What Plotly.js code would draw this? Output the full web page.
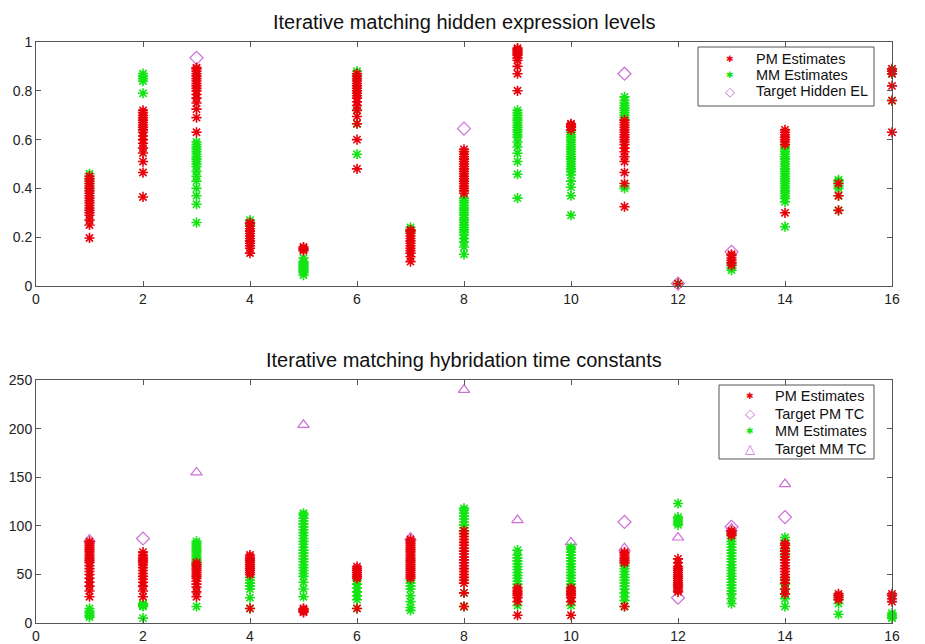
<!DOCTYPE html>
<html>
<head>
<meta charset="utf-8">
<script src="https://cdn.plot.ly/plotly-3.0.1.min.js"></script>
<style>html,body{margin:0;padding:0;background:#fff;}#chart{width:925px;height:644px;}</style>
</head>
<body>
<div id="chart"></div>
<script>
// Gene index (x categories)
const geneIdx = [1,2,3,4,5,6,7,8,9,10,11,12,13,14,15,16];
const xTicks = [0,2,4,6,8,10,12,14,16];

// ---- Top panel: hidden expression levels (per gene index, all iterations) ----
const pmEL = [
  [0.197,0.25,0.27,0.29,0.30,0.31,0.32,0.33,0.34,0.35,0.36,0.37,0.38,0.39,0.40,0.41,0.42,0.43,0.44,0.45],
  [0.365,0.465,0.51,0.545,0.565,0.585,0.60,0.615,0.63,0.64,0.65,0.66,0.67,0.68,0.69,0.70,0.71,0.72],
  [0.63,0.69,0.725,0.75,0.77,0.785,0.80,0.81,0.82,0.83,0.84,0.85,0.86,0.87,0.88,0.89,0.895],
  [0.135,0.155,0.165,0.175,0.185,0.195,0.205,0.215,0.225,0.235,0.245,0.255,0.26],
  [0.145,0.15,0.155,0.16],
  [0.48,0.60,0.665,0.695,0.72,0.74,0.755,0.77,0.78,0.79,0.80,0.81,0.82,0.83,0.84,0.85,0.86,0.87],
  [0.10,0.12,0.135,0.145,0.155,0.165,0.175,0.185,0.195,0.205,0.215,0.225,0.23],
  [0.38,0.39,0.40,0.41,0.42,0.43,0.44,0.45,0.46,0.47,0.48,0.49,0.50,0.51,0.52,0.53,0.54,0.55,0.56],
  [0.80,0.87,0.90,0.925,0.935,0.945,0.95,0.955,0.96,0.965,0.97,0.975],
  [0.64,0.65,0.655,0.66,0.665],
  [0.325,0.42,0.465,0.51,0.53,0.55,0.565,0.58,0.59,0.60,0.61,0.62,0.63,0.64,0.65,0.66,0.67,0.68],
  [0.01],
  [0.085,0.095,0.105,0.115,0.125,0.13],
  [0.30,0.58,0.59,0.60,0.61,0.62,0.63,0.64],
  [0.31,0.37,0.42],
  [0.63,0.76,0.82,0.87,0.88,0.89]
];
const mmEL = [
  [0.40,0.42,0.44,0.46],
  [0.79,0.84,0.85,0.86,0.87],
  [0.26,0.335,0.37,0.40,0.43,0.45,0.47,0.49,0.50,0.51,0.52,0.53,0.54,0.55,0.56,0.57,0.58,0.59],
  [0.25,0.26,0.27],
  [0.045,0.055,0.06,0.065,0.07,0.075,0.08,0.085,0.09,0.095,0.10,0.115],
  [0.54,0.665,0.72,0.80,0.85,0.87,0.88],
  [0.22,0.23,0.24],
  [0.13,0.16,0.18,0.195,0.21,0.22,0.23,0.24,0.25,0.26,0.27,0.28,0.29,0.30,0.31,0.32,0.33,0.34,0.35,0.36],
  [0.36,0.458,0.51,0.544,0.57,0.59,0.61,0.62,0.63,0.64,0.65,0.66,0.67,0.68,0.69,0.70,0.71,0.72],
  [0.29,0.37,0.405,0.43,0.455,0.47,0.48,0.49,0.50,0.51,0.52,0.53,0.54,0.55,0.56,0.57,0.58,0.59,0.60,0.61,0.62,0.63,0.64],
  [0.40,0.41,0.68,0.69,0.70,0.71,0.72,0.73,0.74,0.75,0.76,0.775],
  [0.01],
  [0.065,0.075,0.085,0.095],
  [0.243,0.345,0.36,0.37,0.38,0.39,0.40,0.41,0.42,0.43,0.44,0.45,0.46,0.47,0.48,0.49,0.50,0.51,0.52,0.53,0.54,0.55,0.56,0.57,0.578],
  [0.31,0.37,0.40,0.41,0.42,0.43,0.435],
  [0.76,0.87,0.88,0.89]
];
// Targets: only those visible in the picture (others hidden behind estimates)
const targetEL = [null,null,0.935,null,null,null,null,0.645,null,null,0.87,0.01,0.14,null,null,null];

// ---- Bottom panel: hybridation time constants ----
const pmTC = [
  [27,33,38,42,46,50,53,56,59,62,64,66,68,70,72,74,76,78,80,82,84],
  [27,33,38,42,45,48,51,54,57,60,62,64,66,68,70,73],
  [27,32,37,40,43,46,48,50,52,54,56,58,60,62],
  [15,50,52,54,56,58,60,62,64,66,68,70],
  [11,12,13,14,15],
  [15,46,48,50,52,54,56,58],
  [46,48,50,52,54,56,58,60,62,64,66,68,70,72,74,76,78,80,82,84,86],
  [17,31,41,44,47,50,53,56,59,62,65,68,71,74,77,80,83,86,89,92,95],
  [8,22,26,28,30,32,34,36],
  [8,22,26,28,30,32,34,36],
  [17,62,64,66,68,70,72,73],
  [32,34,36,38,40,42,44,46,48,50,52,54,56,58,62,66],
  [90,92,94,95],
  [30,35,41,44,47,50,53,56,59,62,65,68,71,74,77,80,82],
  [24,26,28,30],
  [22,25,28,30]
];
const mmTC = [
  [6,8,10,12,15],
  [5,17,18,19,20],
  [17,60,62,64,66,68,70,72,74,76,78,80,82,84],
  [15,26,35,38,41,44,47],
  [27,35,42,48,51,54,57,60,63,66,69,72,75,78,81,84,87,90,93,96,99,102,105,108,111,113],
  [15,24,28,32,36,40,44],
  [13,16,22,28,35,38,41,44],
  [17,31,95,98,101,104,107,110,113,116,118],
  [18,37,40,43,46,49,52,55,58,61,64,67,70,75],
  [18,37,40,43,46,49,52,55,58,61,64,67,70,73,76,78],
  [17,23,27,31,35,38,41,44,47,50,53,56,59,61],
  [101,103,105,107,109,123],
  [20,25,30,33,36,39,42,45,48,51,54,57,60,63,66,69,72,75,78,81,84,87,90,92],
  [17,25,30,35,40,45,70,75,80,85,88],
  [9,20,24,28],
  [5,6,8,10]
];
const targetPMTC = [null,87,null,null,null,null,null,null,null,null,104,26,99,109,null,null];
const targetMMTC = [86,null,155,null,204,null,88,240,106,83,77,88,97,143,null,null];

// Legend labels
const legendTop = ['PM Estimates', 'MM Estimates', 'Target Hidden EL'];
const legendBottom = ['PM Estimates', 'Target PM TC', 'MM Estimates', 'Target MM TC'];

// Flatten per-index groups into x/y
function flat(groups) {
  const xs = [], ys = [];
  groups.forEach((g, i) => g.forEach(v => { xs.push(geneIdx[i]); ys.push(v); }));
  return {x: xs, y: ys};
}

const RED = 'rgb(232,0,10)';
const GREEN = 'rgb(20,228,20)';
const MAG = 'rgb(205,110,215)';
const starMk = c => ({symbol: 'asterisk-open', size: 8.5, color: c, line: {color: c, width: 1.6}});
const openMk = s => ({symbol: s, size: 10, color: MAG, line: {color: MAG, width: 1.2}});

const a = flat(pmEL), b = flat(mmEL), c = flat(pmTC), d = flat(mmTC);

const traces = [
  {x: geneIdx, y: targetEL, name: legendTop[2], mode: 'markers', type: 'scatter', marker: openMk('diamond-open'),
   xaxis: 'x', yaxis: 'y', cliponaxis: false},
  {x: b.x, y: b.y, name: legendTop[1], mode: 'markers', type: 'scatter', marker: starMk(GREEN),
   xaxis: 'x', yaxis: 'y', cliponaxis: false},
  {x: a.x, y: a.y, name: legendTop[0], mode: 'markers', type: 'scatter', marker: starMk(RED),
   xaxis: 'x', yaxis: 'y', cliponaxis: false},
  {x: geneIdx, y: targetPMTC, name: legendBottom[1], mode: 'markers', type: 'scatter', marker: openMk('diamond-open'),
   xaxis: 'x2', yaxis: 'y2', cliponaxis: false},
  {x: geneIdx, y: targetMMTC, name: legendBottom[3], mode: 'markers', type: 'scatter', marker: openMk('triangle-up-open'),
   xaxis: 'x2', yaxis: 'y2', cliponaxis: false},
  {x: d.x, y: d.y, name: legendBottom[2], mode: 'markers', type: 'scatter', marker: starMk(GREEN),
   xaxis: 'x2', yaxis: 'y2', cliponaxis: false},
  {x: c.x, y: c.y, name: legendBottom[0], mode: 'markers', type: 'scatter', marker: starMk(RED),
   xaxis: 'x2', yaxis: 'y2', cliponaxis: false}
];

const FONT = 'Liberation Sans, Arial, Helvetica, sans-serif';
const axBase = {
  showgrid: false, zeroline: false, showline: true, mirror: 'ticks',
  linecolor: '#555', linewidth: 1, ticks: 'inside', ticklen: 5, tickcolor: '#555',
  tickfont: {family: FONT, size: 14, color: '#222'}, automargin: false, fixedrange: true
};

// Plot area in pixels (margins) -> helpers to place legend boxes in paper coordinates
const M = {l: 36, r: 33, t: 42, b: 21}, W = 925, H = 644;
const PW = W - M.l - M.r, PH = H - M.t - M.b;
const px = v => (v - M.l) / PW;
const py = v => (H - M.b - v) / PH;

const shapes = [], annotations = [
  {text: 'Iterative matching hidden expression levels', xref: 'paper', yref: 'paper',
   x: 0.5, y: 1, yshift: 7, xanchor: 'center', yanchor: 'bottom', showarrow: false,
   font: {family: FONT, size: 20, color: '#111'}},
  {text: 'Iterative matching hybridation time constants', xref: 'paper', yref: 'paper',
   x: 0.5, y: 0.418, yshift: 7, xanchor: 'center', yanchor: 'bottom', showarrow: false,
   font: {family: FONT, size: 20, color: '#111'}}
];

function addLegend(box, labels, symbols, colors, symX, textX, rowY) {
  shapes.push({type: 'rect', xref: 'paper', yref: 'paper', x0: px(box[0]), x1: px(box[1]), y0: py(box[3]), y1: py(box[2]),
               line: {color: '#555', width: 1}, fillcolor: '#fff', layer: 'above'});
  labels.forEach((lab, i) => {
    const star = symbols[i] === '✱';
    annotations.push({text: symbols[i], xref: 'paper', yref: 'paper', x: px(symX), y: py(rowY[i]),
      xanchor: 'center', yanchor: 'middle', showarrow: false,
      font: {family: 'DejaVu Sans, sans-serif', size: star ? 9 : 13, color: colors[i]}});
    annotations.push({text: lab, xref: 'paper', yref: 'paper', x: px(textX), y: py(rowY[i]),
      xanchor: 'left', yanchor: 'middle', showarrow: false,
      font: {family: FONT, size: 14.5, color: '#111'}});
  });
}
addLegend([698, 874, 47, 106], legendTop, ['✱', '✱', '◇'], [RED, GREEN, MAG], 730, 754, [59, 75, 91]);
addLegend([719, 874, 385, 459], legendBottom, ['✱', '◇', '✱', '△'], [RED, MAG, GREEN, MAG], 750, 773, [396, 413.5, 431, 448.5]);

const layout = {
  width: W, height: H,
  margin: M,
  paper_bgcolor: '#fff', plot_bgcolor: '#fff',
  font: {family: FONT, size: 14, color: '#222'},
  showlegend: false,
  xaxis: Object.assign({}, axBase, {domain: [0, 1], range: [0, 16], tickvals: xTicks, anchor: 'y'}),
  yaxis: Object.assign({}, axBase, {domain: [0.580, 1], range: [0, 1], tickvals: [0,0.2,0.4,0.6,0.8,1], ticktext: ['0','0.2','0.4','0.6','0.8','1'], anchor: 'x'}),
  xaxis2: Object.assign({}, axBase, {domain: [0, 1], range: [0, 16], tickvals: xTicks, anchor: 'y2'}),
  yaxis2: Object.assign({}, axBase, {domain: [0, 0.418], range: [0, 250], tickvals: [0,50,100,150,200,250], anchor: 'x2'}),
  shapes: shapes,
  annotations: annotations
};

Plotly.newPlot('chart', traces, layout, {displayModeBar: false, staticPlot: true});
</script>
</body>
</html>
